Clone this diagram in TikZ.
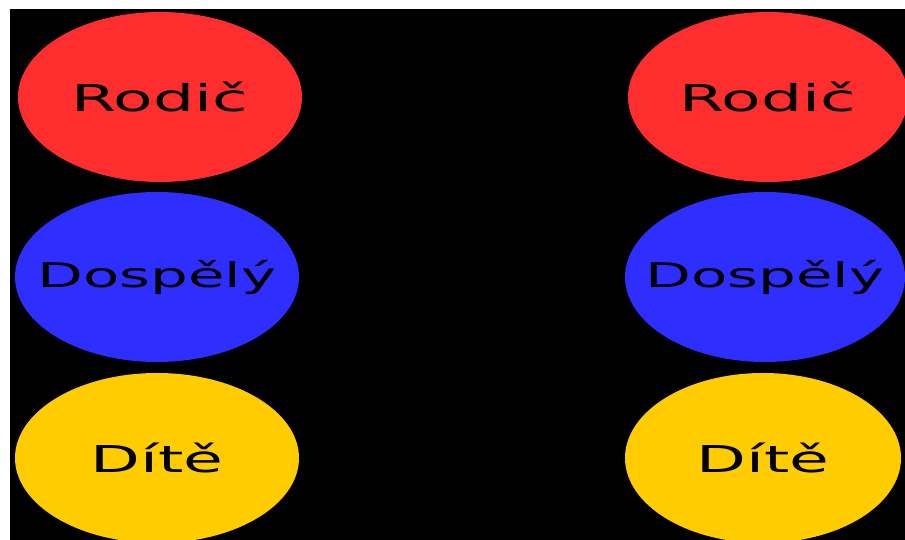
\documentclass[tikz,border=0pt]{standalone}
\usepackage{graphicx}
\usepackage{fontspec}
\setmainfont{DejaVu Sans}
\usepackage{tikz}
\usetikzlibrary{shapes.geometric}
\definecolor{rodicred}{RGB}{255,46,46}
\definecolor{dospblue}{RGB}{46,46,255}
\definecolor{diteyellow}{RGB}{255,204,0}
\newcommand{\widetext}[2][37]{\scalebox{1.75}[1]{\fontsize{#1}{40}\selectfont #2}}

\begin{document}
\begin{tikzpicture}[x=1pt, y=1pt,
    role/.style={ellipse, draw=none, inner sep=0pt, minimum width=284pt, minimum height=170pt, label={[text=black]center:#1}}]
         \useasboundingbox (0,0) rectangle (905,540);
         \fill[black] (10,0) rectangle (905,531);

         % left column
         \node[role={\widetext{Rodič}}, fill=rodicred] (rodicL) at (160,443) {};
         \node[role={\widetext[34]{Dospělý}}, fill=dospblue] (dospL) at (157,263) {};
         \node[role={\widetext{Dítě}}, fill=diteyellow] (diteL) at (157,82) {};

         % right column
         \node[role={\widetext{Rodič}}, fill=rodicred, minimum width=280pt] (rodicR) at (768,443) {};
         \node[role={\widetext[34]{Dospělý}}, fill=dospblue, minimum width=280pt] (dospR) at (765,263) {};
         \node[role={\widetext{Dítě}}, fill=diteyellow, minimum width=276pt] (diteR) at (763,82) {};
    \end{tikzpicture}
\end{document}
